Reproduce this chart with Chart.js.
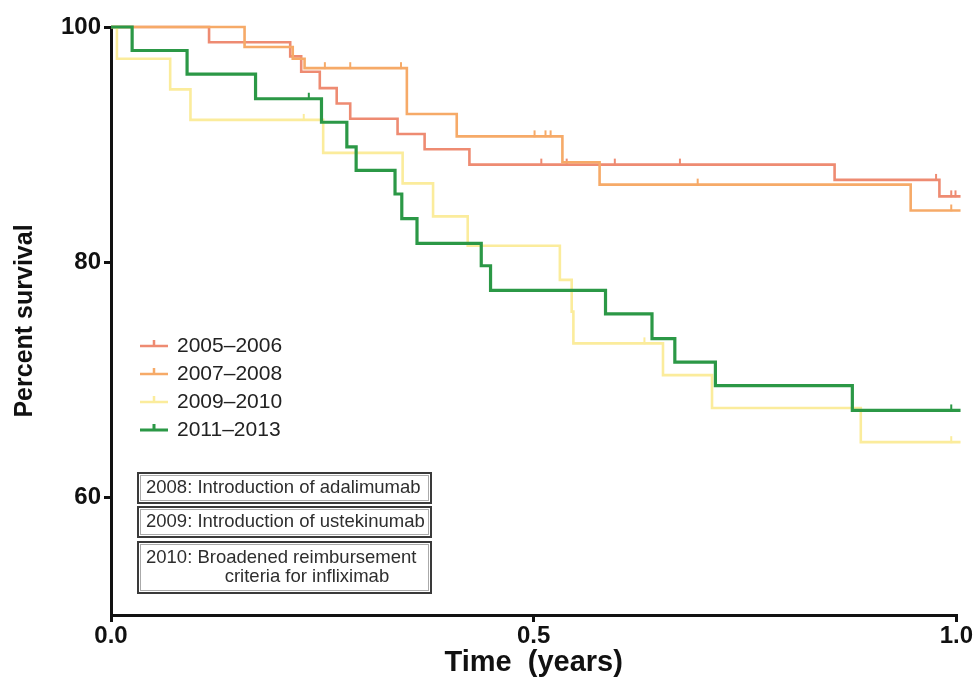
<!DOCTYPE html>
<html>
<head>
<meta charset="utf-8">
<title>Percent survival by period</title>
<script src="https://cdn.jsdelivr.net/npm/chart.js@4.4.1/dist/chart.umd.min.js"></script>
<style>
  html, body { margin: 0; padding: 0; background: #fff; }
  #wrap { width: 973px; height: 687px; position: relative; }
</style>
</head>
<body>
<div id="wrap"><canvas id="chart"></canvas></div>
<script>
// Kaplan-Meier steps: time (years) and percent survival after each drop.
// Censored observations are listed as times only; they sit on the current step.
const seriesLabels = ['2005–2006', '2007–2008', '2009–2010', '2011–2013'];
const seriesColors = ['#ee8b72', '#f6aa68', '#fbec9c', '#2b9846'];

const times2005 = [0, 0.116, 0.212, 0.225, 0.247, 0.267, 0.283, 0.339, 0.371, 0.424, 0.856, 0.980, 1.005];
const surv2005  = [100, 98.7, 97.5, 96.2, 94.8, 93.5, 92.2, 90.9, 89.6, 88.3, 87.0, 85.6, 85.6];
const cens2005  = [0.509, 0.539, 0.596, 0.673, 0.976, 0.994, 0.999];

const times2007 = [0, 0.158, 0.215, 0.229, 0.350, 0.409, 0.534, 0.578, 0.946, 1.005];
const surv2007  = [100, 98.3, 97.3, 96.5, 92.6, 90.7, 88.5, 86.6, 84.4, 84.4];
const cens2007  = [0.253, 0.283, 0.343, 0.501, 0.514, 0.520, 0.694, 0.994];

const times2009 = [0, 0.007, 0.070, 0.094, 0.251, 0.345, 0.381, 0.422, 0.531, 0.545, 0.547, 0.653, 0.711, 0.887, 1.005];
const surv2009  = [100, 97.3, 94.7, 92.1, 89.3, 86.7, 83.9, 81.4, 78.5, 75.8, 73.1, 70.4, 67.6, 64.7, 64.7];
const cens2009  = [0.228, 0.631, 0.994];

const times2011 = [0, 0.025, 0.090, 0.171, 0.249, 0.279, 0.290, 0.336, 0.344, 0.362, 0.438, 0.449, 0.585, 0.640, 0.667, 0.715, 0.877, 1.005];
const surv2011  = [100, 98.0, 96.0, 93.9, 91.9, 89.8, 87.8, 85.8, 83.7, 81.6, 79.7, 77.6, 75.6, 73.5, 71.5, 69.5, 67.4, 67.4];
const cens2011  = [0.234, 0.994];

const xTicks = [0, 0.5, 1.0];
const yTicks = [60, 80, 100];

const notes = [
    ['2008: ', 'Introduction of adalimumab'],
    ['2009: ', 'Introduction of ustekinumab'],
    ['2010: ', 'Broadened reimbursement', 'criteria for infliximab']
];

const FONT = '"Liberation Sans", Arial, sans-serif';

/**
 * Merges step points and censor marks into one sorted point list.
 */
function buildPoints(times, surv, cens) {
    const pts = times.map((t, i) => ({ x: t, y: surv[i], censored: false }));
    cens.forEach(c => {
        let y = surv[0];
        times.forEach((t, i) => { if (t <= c) y = surv[i]; });
        pts.push({ x: c, y: y, censored: true });
    });
    return pts.sort((a, b) => a.x - b.x);
}

// small upward tick used for censored subjects
function tickMark(color) {
    const c = document.createElement('canvas');
    c.width = 4; c.height = 14;
    const g = c.getContext('2d');
    g.strokeStyle = color; g.lineWidth = 2;
    g.beginPath(); g.moveTo(2, 1); g.lineTo(2, 7.5); g.stroke();
    return c;
}

const allSeries = [
    [times2005, surv2005, cens2005],
    [times2007, surv2007, cens2007],
    [times2009, surv2009, cens2009],
    [times2011, surv2011, cens2011]
];

const datasets = allSeries.map((s, i) => ({
    label: seriesLabels[i],
    data: buildPoints(s[0], s[1], s[2]),
    borderColor: seriesColors[i],
    borderWidth: i === 3 ? 3.2 : 2.6,
    stepped: 'before',
    fill: false,
    clip: false,
    pointStyle: tickMark(seriesColors[i]),
    pointRadius: ctx => (ctx.raw && ctx.raw.censored ? 3 : 0),
    order: 3 - i
}));

const overlay = {
    id: 'overlay',
    afterDatasetsDraw(chart) {
        const ctx = chart.ctx;
        ctx.save();

        // legend, bottom-left of the plot
        ctx.textBaseline = 'middle';
        seriesLabels.forEach((lab, i) => {
            const y = 346 + i * 28;
            ctx.strokeStyle = seriesColors[i];
            ctx.lineWidth = i === 3 ? 3 : 2.5;
            ctx.beginPath();
            ctx.moveTo(140, y); ctx.lineTo(168, y);
            ctx.moveTo(154, y); ctx.lineTo(154, y - 6);
            ctx.stroke();
            ctx.fillStyle = '#222';
            ctx.font = '21px ' + FONT;
            ctx.fillText(lab, 177, y);
        });

        // note boxes
        const boxes = [[138, 473, 293, 30], [138, 507, 293, 30], [138, 542, 293, 51]];
        boxes.forEach((b, i) => {
            ctx.strokeStyle = '#3a3a3a';
            ctx.lineWidth = 2;
            ctx.strokeRect(b[0], b[1], b[2], b[3]);
            ctx.strokeStyle = '#aaa';
            ctx.lineWidth = 1;
            ctx.strokeRect(b[0] + 2.5, b[1] + 2.5, b[2] - 5, b[3] - 5);

            const n = notes[i];
            ctx.font = '18.5px ' + FONT;
            ctx.fillStyle = '#2e2e2e';
            const lead = ctx.measureText(n[0]).width;
            const y1 = b[1] + (n.length > 2 ? 16 : b[3] / 2);
            ctx.textAlign = 'left';
            ctx.fillText(n[0], 146, y1);
            ctx.fillText(n[1], 146 + lead, y1);
            if (n.length > 2) {
                const w1 = ctx.measureText(n[1]).width;
                ctx.textAlign = 'center';
                ctx.fillText(n[2], 146 + lead + w1 / 2, y1 + 19);
            }
        });
        ctx.restore();
    }
};

new Chart(document.getElementById('chart'), {
    type: 'line',
    data: { datasets: datasets },
    plugins: [overlay],
    options: {
        responsive: true,
        maintainAspectRatio: false,
        animation: false,
        events: [],
        layout: { padding: { left: 0, top: 27, right: 16, bottom: 0 } },
        plugins: { legend: { display: false }, tooltip: { enabled: false } },
        scales: {
            x: {
                type: 'linear', min: 0, max: 1,
                afterBuildTicks: s => { s.ticks = xTicks.map(v => ({ value: v })); },
                afterFit: s => { s.height = 72; },
                ticks: { callback: v => v.toFixed(1), color: '#111', padding: 0, maxRotation: 0,
                         font: { family: FONT, size: 24, weight: 'bold' } },
                grid: { drawOnChartArea: false, color: '#111', lineWidth: 3, tickLength: 7 },
                border: { color: '#111', width: 3 },
                title: { display: true, text: 'Time  (years)', color: '#111', padding: { top: 0, bottom: 7 },
                         font: { family: FONT, size: 29, weight: 'bold' } }
            },
            y: {
                min: 50, max: 100,
                afterBuildTicks: s => { s.ticks = yTicks.map(v => ({ value: v })); },
                afterFit: s => { s.width = 111; },
                ticks: { color: '#111', padding: 3, font: { family: FONT, size: 24, weight: 'bold' } },
                grid: { drawOnChartArea: false, color: '#111', lineWidth: 3, tickLength: 7 },
                border: { color: '#111', width: 3 },
                title: { display: true, text: 'Percent survival', color: '#111', padding: { top: 10, bottom: 0 },
                         font: { family: FONT, size: 25, weight: 'bold' } }
            }
        }
    }
});
</script>
</body>
</html>
